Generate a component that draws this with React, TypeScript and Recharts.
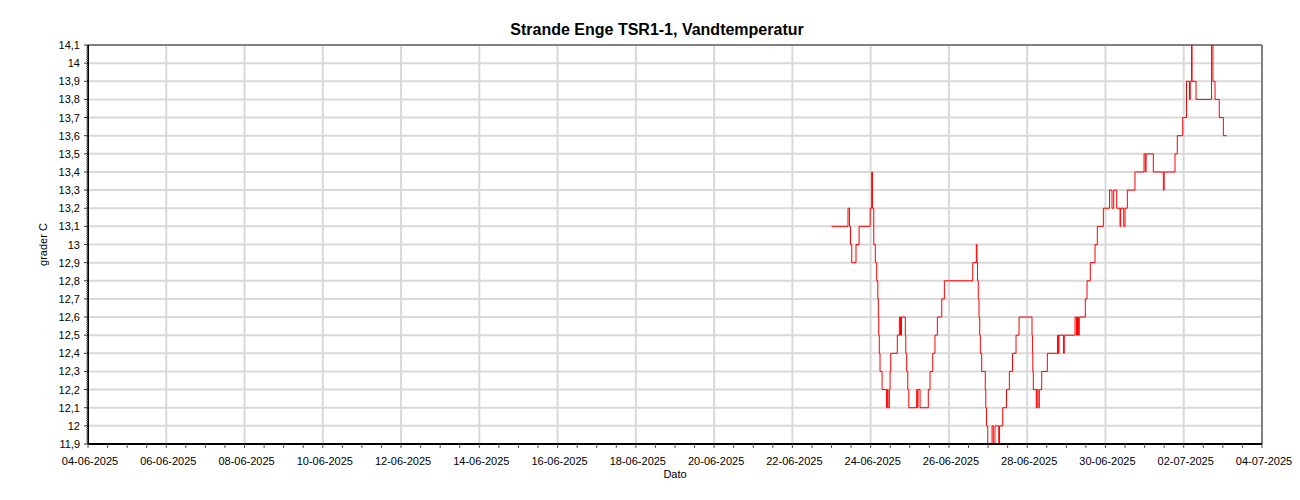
import React from 'react';
import { LineChart, Line, XAxis, YAxis, ReferenceLine } from 'recharts';

const chartTitle = 'Strande Enge TSR1-1, Vandtemperatur';
const xAxisTitle = 'Dato';
const yAxisTitle = 'grader C';

const xTickLabels = [
  '04-06-2025', '06-06-2025', '08-06-2025', '10-06-2025', '12-06-2025', '14-06-2025',
  '16-06-2025', '18-06-2025', '20-06-2025', '22-06-2025', '24-06-2025', '26-06-2025',
  '28-06-2025', '30-06-2025', '02-07-2025', '04-07-2025',
];

const yTickValues = [
  11.9, 12, 12.1, 12.2, 12.3, 12.4, 12.5, 12.6, 12.7, 12.8, 12.9, 13, 13.1, 13.2,
  13.3, 13.4, 13.5, 13.6, 13.7, 13.8, 13.9, 14, 14.1,
];

const seriesStart = '23-06-2025';

// hours after 23-06-2025 00:00 at which the reading changes
const hoursSinceStart = [
  0, 10.1, 11.0, 11.65, 12.4, 15.0, 16.9, 23.7, 24.65, 25.1, 25.9, 26.85, 27.7, 28.4,
  28.7, 28.95, 29.3, 29.75, 31.0, 33.7, 34.2, 34.65, 35.45, 35.9, 36.3, 40.35, 41.6,
  42.3, 42.9, 45.25, 45.55, 46.1, 46.75, 47.4, 52.25, 52.6, 53.05, 54.3, 59.35, 60.4,
  62.05, 63.45, 64.9, 67.6, 69.2, 86.6, 88.8, 89.2, 89.55, 90.0, 90.45, 90.9, 91.25,
  92.1, 94.3, 94.6, 95.05, 95.8, 98.45, 99.2, 100.25, 102.55, 103.05, 105.0, 107.3,
  109.05, 111.0, 113.15, 115.0, 122.95, 123.2, 123.45, 123.75, 125.6, 126.0, 126.65,
  127.45, 128.9, 132.35, 138.6, 139.1, 139.5, 142.3, 142.75, 149.35, 150.25, 150.85,
  151.5, 151.95, 155.65, 156.7, 158.7, 161.6, 163.0, 166.7, 170.5, 172.0, 173.05,
  174.9, 176.95, 177.35, 179.2, 180.0, 181.4, 186.1, 191.65, 192.45, 192.9, 197.35,
  203.5, 204.0, 210.65, 212.05, 215.4, 217.7, 219.55, 220.0, 220.8, 221.1, 223.55,
  233.05, 233.9, 235.2, 237.8, 240.3, 242.35,
];

const temperatures = [
  13.1, 13.2, 13.1, 13.0, 12.9, 13.0, 13.1, 13.2, 13.4, 13.2, 13.0, 12.9, 12.8, 12.7,
  12.6, 12.5, 12.4, 12.3, 12.2, 12.1, 12.2, 12.1, 12.2, 12.3, 12.4, 12.5, 12.6,
  12.5, 12.6, 12.5, 12.4, 12.3, 12.2, 12.1, 12.2, 12.1, 12.2, 12.1, 12.2, 12.3,
  12.4, 12.5, 12.6, 12.7, 12.8, 12.9, 13.0, 12.9, 12.8, 12.7, 12.6, 12.5, 12.4,
  12.3, 12.2, 12.1, 12.0, 11.9, 12.0, 11.9, 12.0, 11.9, 12.0, 12.1, 12.2,
  12.3, 12.4, 12.5, 12.6, 12.5, 12.4, 12.3, 12.2, 12.1, 12.2, 12.1,
  12.2, 12.3, 12.4, 12.5, 12.4, 12.5, 12.4, 12.5, 12.6, 12.5, 12.6,
  12.5, 12.6, 12.7, 12.8, 12.9, 13.0, 13.1, 13.2, 13.3, 13.2, 13.3,
  13.2, 13.1, 13.2, 13.1, 13.2, 13.3, 13.4, 13.5, 13.4, 13.5, 13.4,
  13.3, 13.4, 13.5, 13.6, 13.7, 13.9, 13.8, 13.9, 14.1, 13.9, 13.8,
  14.1, 13.9, 13.8, 13.7, 13.6, 13.6,
];

const HOUR = 3600000;
const parseDate = (s: string) => {
  const [d, m, y] = s.split('-').map(Number);
  return Date.UTC(y, m - 1, d);
};
const pad = (n: number) => (n < 10 ? '0' + n : String(n));
const fmtDate = (t: number) => {
  const d = new Date(t);
  return `${pad(d.getUTCDate())}-${pad(d.getUTCMonth() + 1)}-${d.getUTCFullYear()}`;
};
const fmtNum = (v: number) => String(Math.round(v * 10) / 10).replace('.', ',');

const startMs = parseDate(seriesStart);
const data = hoursSinceStart.map((h, i) => ({ t: startMs + h * HOUR, v: temperatures[i] }));

const xMajor = xTickLabels.map(parseDate);
const xMajorSet = new Set(xMajor);
const xMinor: number[] = [];
for (let t = xMajor[0]; t <= xMajor[xMajor.length - 1]; t += 12 * HOUR) xMinor.push(t);

const yMinor: number[] = [];
for (let i = 0; i < yTickValues.length - 1; i++) {
  for (let k = 0; k < 10; k++) {
    yMinor.push(Math.round((yTickValues[i] + ((yTickValues[i + 1] - yTickValues[i]) * k) / 10) * 1000) / 1000);
  }
}
yMinor.push(yTickValues[yTickValues.length - 1]);

const FONT = "'Liberation Sans', Arial, sans-serif";

const XTick = (props: any) => {
  const { x, y, payload } = props;
  const major = xMajorSet.has(payload.value);
  return (
    <g>
      <line x1={x} x2={x} y1={y} y2={y + 4} stroke="#555" strokeWidth={1} />
      {major && (
        <text x={x + 2} y={y + 21} textAnchor="middle" fontSize={11} fontFamily={FONT} fill="#000">
          {fmtDate(payload.value)}
        </text>
      )}
    </g>
  );
};

const YTick = (props: any) => {
  const { x, y, payload } = props;
  const v = payload.value as number;
  const major = Math.abs(v * 10 - Math.round(v * 10)) < 1e-6;
  return (
    <g>
      <line x1={x - (major ? 4 : 2)} x2={x} y1={y} y2={y} stroke={major ? '#333' : '#888'} strokeWidth={1} />
      {major && (
        <text x={x - 8} y={y + 4} textAnchor="end" fontSize={11} fontFamily={FONT} fill="#000">
          {fmtNum(v)}
        </text>
      )}
    </g>
  );
};

const GRID = '#d9d9d9';

export default function App() {
  return (
    <div style={{ position: 'relative', width: 1284, height: 484 }}>
      <div
        style={{
          position: 'absolute',
          top: 12,
          left: 7,
          width: 1284,
          height: 20,
          lineHeight: '20px',
          textAlign: 'center',
          fontFamily: FONT,
          fontWeight: 'bold',
          fontSize: 16,
          color: '#000',
        }}
      >
        {chartTitle}
      </div>
      <LineChart
        width={1284}
        height={484}
        data={data}
        margin={{ top: 37, right: 30, left: 0, bottom: 12 }}
      >
        {yTickValues.map((v) => (
          <ReferenceLine key={'h' + v} y={v} stroke={GRID} strokeWidth={2} />
        ))}
        {xMajor.map((t) => (
          <ReferenceLine key={'v' + t} x={t} stroke={GRID} strokeWidth={2} />
        ))}
        <ReferenceLine y={yTickValues[yTickValues.length - 1]} stroke="#808080" strokeWidth={2} />
        <ReferenceLine x={xMajor[xMajor.length - 1]} stroke="#808080" strokeWidth={2} />
        <XAxis
          dataKey="t"
          type="number"
          domain={[xMajor[0], xMajor[xMajor.length - 1]]}
          ticks={xMinor}
          interval={0}
          tick={<XTick />}
          tickLine={false}
          tickSize={0}
          tickMargin={0}
          height={36}
          axisLine={{ stroke: '#000', strokeWidth: 2 }}
          label={{ value: xAxisTitle, position: 'insideBottom', offset: 2, fontSize: 11, fontFamily: FONT, fill: '#000' }}
        />
        <YAxis
          type="number"
          domain={[yTickValues[0], yTickValues[yTickValues.length - 1]]}
          allowDataOverflow
          ticks={yMinor}
          interval={0}
          tick={<YTick />}
          tickLine={false}
          tickSize={0}
          tickMargin={0}
          width={80}
          axisLine={{ stroke: '#000', strokeWidth: 2 }}
          label={{ value: yAxisTitle, angle: -90, position: 'center', dx: -5, fontSize: 11, fontFamily: FONT, fill: '#000' }}
        />
        <Line
          dataKey="v"
          type="stepAfter"
          stroke="#ff0000"
          strokeWidth={1}
          dot={false}
          activeDot={false}
          isAnimationActive={false}
        />
      </LineChart>
    </div>
  );
}
